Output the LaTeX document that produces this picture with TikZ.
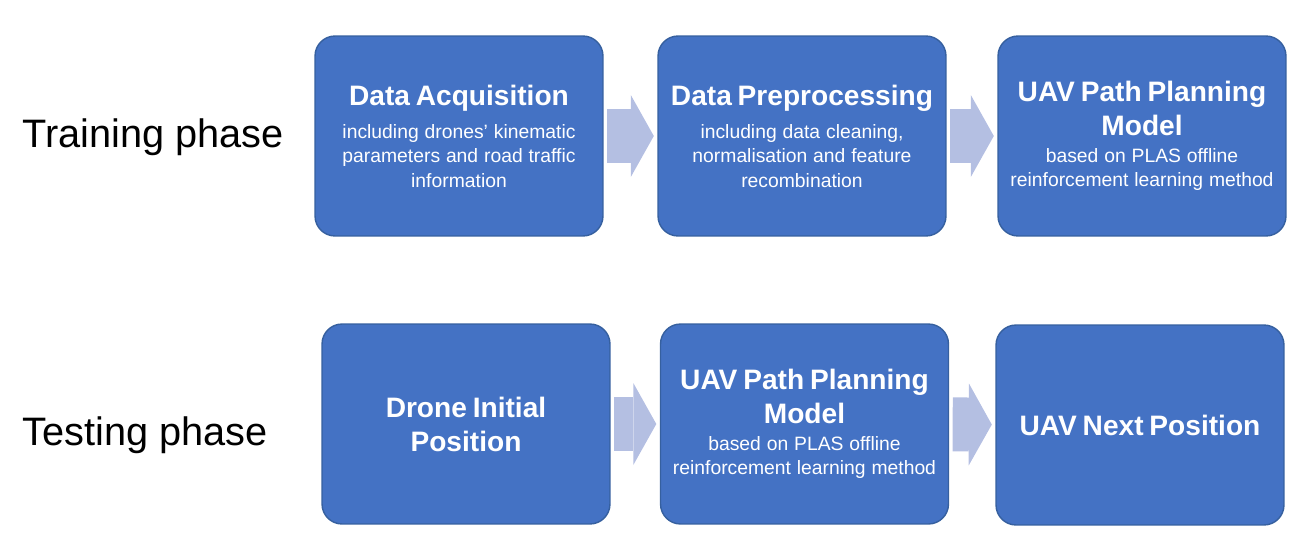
\documentclass[tikz,border=0pt]{standalone}
\usepackage{fontspec}
\setmainfont{Liberation Sans}
\usepackage{xcolor}
\usetikzlibrary{arrows.meta,positioning,calc}
\definecolor{boxblue}{HTML}{4472C4}
\definecolor{boxedge}{HTML}{36609F}
\definecolor{arrowfill}{HTML}{B4BFE2}
\newcommand{\titlefont}{\fontsize{16}{19.3}\selectfont\bfseries}
\newcommand{\subfont}{\fontsize{11}{13.9}\selectfont}
\tikzset{
  stagebox/.style={draw=boxedge,fill=boxblue,line width=0.8pt,
                   rounded corners=0.4cm,text=white,align=center,
                   text width=5.6cm,inner sep=0.08cm,
                   minimum width=5.76cm,minimum height=4cm},
  phaselabel/.style={anchor=west,inner sep=0pt,font=\fontsize{22.6}{27}\selectfont},
  blockarr/.style={-{Triangle[length=0.46cm,width=1.64cm,line width=0pt]},
                   line width=1.08cm,draw=arrowfill,
                   shorten <=2pt,shorten >=2pt}
}

\begin{document}
\begin{tikzpicture}[x=0.02cm,y=-0.02cm]
    \useasboundingbox (0,0) rectangle (1302,552);
    \node[phaselabel] (train) at (22,137) {Training phase};
    \node[phaselabel] (test) at (22,435) {Testing phase};

    % training row
    \node[stagebox] (acq) at (459,136)
      {{\titlefont Data Acquisition\par}\vspace{5pt}
       {\subfont including drones' kinematic\\parameters and road traffic\\information\par}};
    \node[stagebox] (prep) at (802,136)
      {{\titlefont Data Preprocessing\par}\vspace{5pt}
       {\subfont including data cleaning,\\normalisation and feature\\recombination\par}};
    \node[stagebox] (model) at (1142,136)
      {{\titlefont UAV Path Planning\\Model\par}\vspace{1pt}
       {\subfont based on PLAS offline\\reinforcement learning method\par}};
    \draw[blockarr] (acq) -- (prep);
    \draw[blockarr] (prep) -- (model);

    % testing row
    \node[stagebox] (init) at (466,424)
      {{\titlefont Drone Initial\\Position\par}};
    \node[stagebox] (tmodel) at (804.5,424)
      {{\titlefont UAV Path Planning\\Model\par}\vspace{1pt}
       {\subfont based on PLAS offline\\reinforcement learning method\par}};
    \node[stagebox] (next) at (1140,425)
      {{\titlefont UAV Next Position\par}};
    \draw[blockarr] (init) -- (tmodel);
    \draw[blockarr] (tmodel) -- (next);
  \end{tikzpicture}
\end{document}
